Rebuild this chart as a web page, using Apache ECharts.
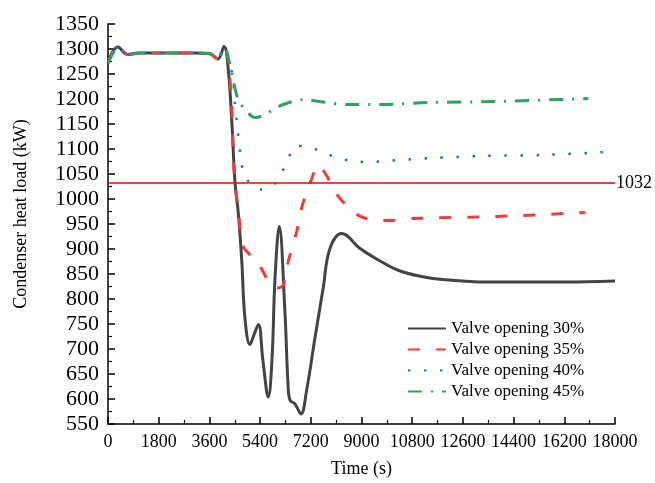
<!DOCTYPE html>
<html>
<head>
<meta charset="utf-8">
<title>Condenser heat load</title>
<script src="https://cdn.jsdelivr.net/npm/echarts@6.0.0/dist/echarts.min.js"></script>
<style>
  html, body { margin: 0; padding: 0; background: #fff; }
  #chart { width: 655px; height: 483px; }
</style>
</head>
<body>
<div id="chart"></div>
<script>
// 阀门开度 30%
var time30 = [0, 350, 700, 1100, 2000, 3000, 3600, 3900, 4120, 4260, 4400, 4510, 4620, 4750, 4860, 5040, 5180, 5340, 5500, 5690, 5820, 5930, 6080, 6280, 6390, 6460, 6640, 6850, 7050, 7350, 7640, 7880, 8300, 8950, 9660, 10370, 11430, 12600, 13200, 14400, 16200, 18000];
var load30 = [1272, 1304, 1289, 1292, 1292, 1292, 1291, 1280, 1305, 1265, 1150, 1032, 975, 876, 763, 709, 728, 749, 677, 604, 677, 842, 945, 776, 630, 598, 590, 570, 617, 723, 822, 901, 931, 901, 876, 856, 842, 836, 834, 834, 834, 836];
// 35%
var time35 = [0, 350, 700, 1100, 2000, 3000, 3600, 3900, 4150, 4360, 4470, 4630, 4800, 5100, 5400, 5810, 6010, 6220, 6400, 6700, 6870, 7050, 7230, 7450, 7760, 8060, 8240, 8650, 9010, 9590, 10010, 10830, 13800, 16940];
var load35 = [1272, 1304, 1289, 1292, 1292, 1292, 1291, 1280, 1302, 1219, 1060, 974, 905, 885, 865, 825, 822, 828, 875, 935, 981, 1014, 1040, 1068, 1047, 1014, 1001, 977, 964, 957, 957, 961, 965, 973];
// 40%
var time40 = [0, 350, 700, 1100, 2000, 3000, 3600, 3900, 4150, 4260, 4440, 4510, 4570, 4690, 4780, 4980, 5400, 5810, 6140, 6400, 6640, 6960, 7530, 8060, 8660, 9230, 10370, 11540, 13310, 15400, 17720];
var load40 = [1272, 1304, 1289, 1292, 1292, 1292, 1291, 1280, 1302, 1288, 1239, 1189, 1156, 1094, 1060, 1035, 1019, 1024, 1050, 1080, 1106, 1106, 1096, 1084, 1076, 1074, 1078, 1082, 1086, 1088, 1094];
// 45%
var time45 = [0, 350, 700, 1100, 2000, 3000, 3600, 3900, 4120, 4330, 4440, 4620, 4860, 5220, 5510, 5870, 6220, 6930, 7760, 8480, 9660, 11430, 13800, 17050];
var load45 = [1272, 1302, 1288, 1292, 1292, 1292, 1291, 1284, 1302, 1269, 1239, 1199, 1179, 1163, 1167, 1179, 1189, 1199, 1193, 1189, 1189, 1193, 1195, 1201];

var seriesNames = ["Valve opening 30%", "Valve opening 35%", "Valve opening 40%", "Valve opening 45%"];
var limitLoad = 1032;

function pairs(xs, ys) {
  var out = [];
  for (var i = 0; i < xs.length; i++) {
    out.push([xs[i], ys[i]]);
  }
  return out;
}

// 不要千分位，用 rich 强制衬线字体
function plain(v) {
  return "{t|" + v + "}";
}

var font = "Liberation Serif";
var myChart = echarts.init(document.getElementById("chart"));

var axisCommon = {
  type: "value",
  axisLine: { show: true, lineStyle: { color: "#000", width: 1.5 } },
  axisTick: { show: true, inside: true, length: 7, lineStyle: { color: "#000", width: 1.5 } },
  minorTick: { show: true, splitNumber: 2, length: 4, lineStyle: { color: "#000", width: 1.2 } },
  splitLine: { show: false }
};

var option = {
  animation: false,
  backgroundColor: "#fff",
  textStyle: { fontFamily: font, color: "#000" },
  grid: { left: 108, right: 40, top: 24, bottom: 56 },
  legend: {
    data: seriesNames,
    orient: "vertical",
    left: 407,
    top: 320,
    padding: 0,
    itemWidth: 38,
    itemHeight: 12,
    itemGap: 4,
    itemStyle: { opacity: 0 },
    textStyle: { fontFamily: font, fontSize: 17, color: "#000" }
  },
  xAxis: Object.assign({}, axisCommon, {
    min: 0,
    max: 18000,
    interval: 1800,
    name: "Time (s)",
    nameLocation: "middle",
    nameGap: 36,
    nameTextStyle: { fontFamily: font, fontSize: 18, color: "#000" },
    axisLabel: {
      margin: 9,
      formatter: plain,
      rich: { t: { fontFamily: font, fontSize: 18, color: "#000" } }
    }
  }),
  yAxis: Object.assign({}, axisCommon, {
    min: 550,
    max: 1350,
    interval: 50,
    name: "Condenser heat load (kW)",
    nameLocation: "middle",
    nameGap: 78,
    nameTextStyle: { fontFamily: font, fontSize: 18, color: "#000", padding: [0, 0, 0, 20] },
    axisLabel: {
      margin: 9,
      formatter: plain,
      rich: { t: { fontFamily: font, fontSize: 22, color: "#000" } }
    }
  }),
  series: [
    {
      name: seriesNames[0],
      type: "line",
      symbol: "none",
      smooth: 0.4,
      data: pairs(time30, load30),
      lineStyle: { color: "#444444", width: 3 },
      itemStyle: { color: "#444444" },
      markLine: {
        silent: true,
        symbol: ["none", "none"],
        lineStyle: { color: "#ff0000", width: 1.5, type: "solid" },
        label: {
          position: "end",
          distance: 1,
          formatter: String(limitLoad),
          fontFamily: font,
          fontSize: 18,
          color: "#000"
        },
        data: [{ yAxis: limitLoad }]
      }
    },
    {
      name: seriesNames[1],
      type: "line",
      symbol: "none",
      smooth: 0.3,
      data: pairs(time35, load35),
      lineStyle: { color: "#f03c3c", width: 3, type: [12, 16] },
      itemStyle: { color: "#f03c3c" }
    },
    {
      name: seriesNames[2],
      type: "line",
      symbol: "none",
      smooth: 0.3,
      data: pairs(time40, load40),
      lineStyle: { color: "#1f6fe0", width: 2.5, type: [2.5, 13.5] },
      itemStyle: { color: "#1f6fe0" }
    },
    {
      name: seriesNames[3],
      type: "line",
      symbol: "none",
      smooth: 0.3,
      data: pairs(time45, load45),
      lineStyle: { color: "#2ba35c", width: 3, type: [14, 9, 2, 9] },
      itemStyle: { color: "#2ba35c" }
    }
  ]
};

myChart.setOption(option);
window.addEventListener("resize", function () {
  myChart.resize();
});
</script>
</body>
</html>
